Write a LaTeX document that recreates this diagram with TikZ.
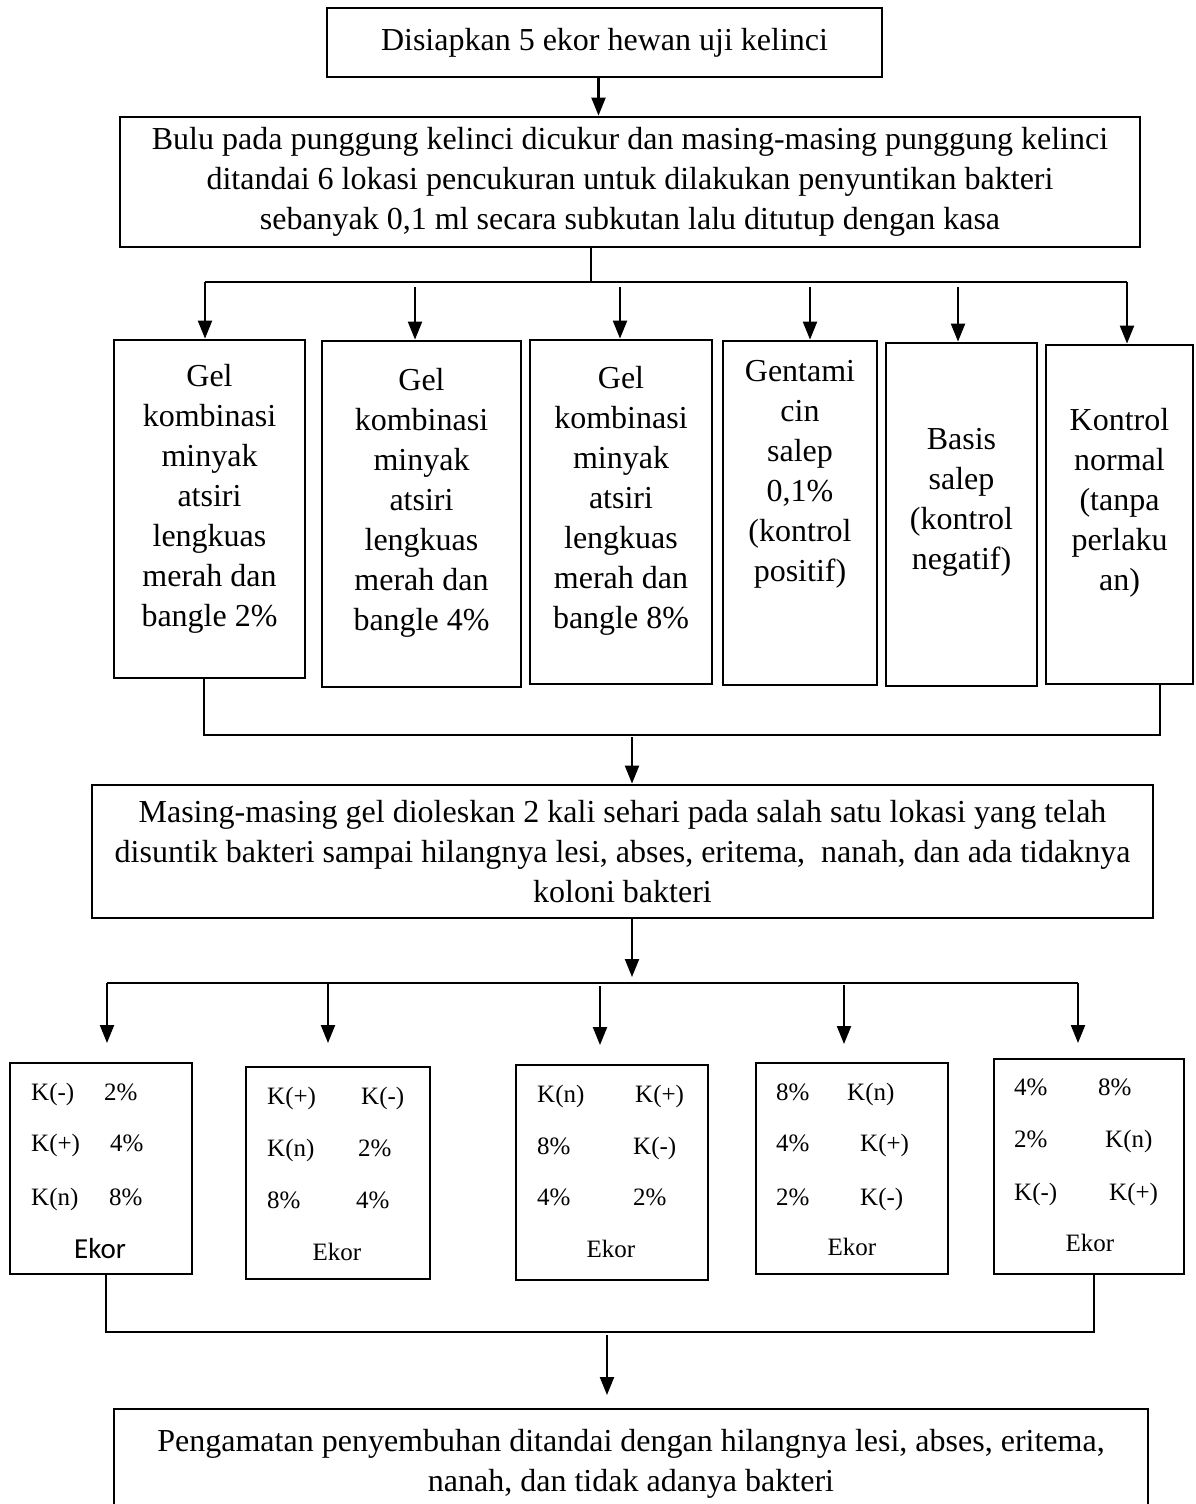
\documentclass[tikz,border=0pt]{standalone}
\usepackage{fontspec}
\setmainfont{Liberation Serif}
\newfontfamily\calib{Carlito}
\usetikzlibrary{arrows.meta}
\begin{document}
\begin{tikzpicture}[x=1pt,y=-1pt,
  box/.style={draw,line width=2.8pt,inner sep=0pt},
  txt/.style={font=\fontsize{32}{40}\selectfont,align=center,inner sep=0pt},
  sm/.style={font=\fontsize{25}{30}\selectfont,inner sep=0pt,anchor=west,text height=17pt,text depth=0pt},
  smc/.style={sm,anchor=center},
  arr/.style={line width=2.2pt,-{Triangle[length=18pt,width=14pt]}},
  bus/.style={line width=1.3pt}]
\useasboundingbox (0,0) rectangle (1195,1504);
% top box
\node[box,txt,minimum width=555,minimum height=69] (A) at (604.5,42.5) {Disiapkan 5 ekor hewan uji kelinci};
\node[box,txt,minimum width=1020,minimum height=130] (B) at (630,182) {Bulu pada punggung kelinci dicukur dan masing-masing punggung kelinci\\ditandai 6 lokasi pencukuran untuk dilakukan penyuntikan bakteri\\sebanyak 0,1 ml secara subkutan lalu ditutup dengan kasa};
\draw[arr] ([xshift=-6pt]A.south) -- ([xshift=-6pt]A.south |- B.north);
% six boxes
\node[box,minimum width=191,minimum height=338] (b1) at (209.5,509) {};
\node[box,minimum width=199,minimum height=346] (b2) at (421.5,514) {};
\node[box,minimum width=182,minimum height=344] (b3) at (621,512) {};
\node[box,minimum width=154,minimum height=344] (b4) at (800,513) {};
\node[box,minimum width=151,minimum height=343] (b5) at (961.5,514.5) {};
\node[box,minimum width=147,minimum height=339] (b6) at (1119.5,514.5) {};
\node[txt] (t1) at (209.5,499) {Gel\\kombinasi\\minyak\\atsiri\\lengkuas\\merah dan\\bangle 2\%};
\node[txt] (t2) at (421.5,502.5) {Gel\\kombinasi\\minyak\\atsiri\\lengkuas\\merah dan\\bangle 4\%};
\node[txt] (t3) at (621,501) {Gel\\kombinasi\\minyak\\atsiri\\lengkuas\\merah dan\\bangle 8\%};
\node[txt] (t4) at (800,474) {Gentami\\cin\\salep\\0,1\%\\(kontrol\\positif)};
\node[txt] (t5) at (961.5,502.5) {Basis\\salep\\(kontrol\\negatif)};
\node[txt] (t6) at (1119.5,502.5) {Kontrol\\normal\\(tanpa\\perlaku\\an)};
% bus 1
\coordinate (j1) at (591,282);
\coordinate (p1) at (205,282);
\coordinate (p2) at (415,287);
\coordinate (p3) at (620,287);
\coordinate (p4) at (810,287);
\coordinate (p5) at (958,287);
\coordinate (p6) at (1127,282);
\draw[bus] (j1 |- B.south) -- (j1);
\draw[bus] (p1) -- (p6);
\draw[arr] (p1) -- (p1 |- b1.north);
\draw[arr] (p2) -- (p2 |- b2.north);
\draw[arr] (p3) -- (p3 |- b3.north);
\draw[arr] (p4) -- (p4 |- b4.north);
\draw[arr] (p5) -- (p5 |- b5.north);
\draw[arr] (p6) -- (p6 |- b6.north);
% middle box
\node[box,txt,minimum width=1061,minimum height=133] (C) at (622.5,851.5) {Masing-masing gel dioleskan 2 kali sehari pada salah satu lokasi yang telah\\disuntik bakteri sampai hilangnya lesi, abses, eritema,~ nanah, dan ada tidaknya\\koloni bakteri};
% bus 2
\coordinate (q1) at (204,735);
\coordinate (q2) at (1160,735);
\coordinate (q3) at (632,737);
\draw[bus] (q1 |- b1.south) -- (q1) -- (q2) -- (q2 |- b6.south);
\draw[arr] (q3) -- (q3 |- C.north);
% bus 3
\coordinate (r0) at (632,977);
\draw[arr] (r0 |- C.south) -- (r0);
\coordinate (r1) at (107,983);
\coordinate (r2) at (328,983);
\coordinate (r3) at (600,986);
\coordinate (r4) at (844,985);
\coordinate (r5) at (1078,983);
\draw[bus] (r1) -- (r5);
\coordinate (s1) at (107,1043);
\coordinate (s2) at (328,1043);
\coordinate (s3) at (600,1045);
\coordinate (s4) at (844,1044);
\coordinate (s5) at (1078,1043);
\draw[arr] (r1) -- (s1);
\draw[arr] (r2) -- (s2);
\draw[arr] (r3) -- (s3);
\draw[arr] (r4) -- (s4);
\draw[arr] (r5) -- (s5);
% small boxes
\node[box,minimum width=182,minimum height=211] (d1) at (101,1168.5) {};
\node[box,minimum width=184,minimum height=212] (d2) at (338,1173) {};
\node[box,minimum width=192,minimum height=215] (d3) at (612,1172.5) {};
\node[box,minimum width=192,minimum height=211] (d4) at (852,1168.5) {};
\node[box,minimum width=190,minimum height=215] (d5) at (1089,1166.5) {};
% d1
\node[sm] (d1a) at (31,1092) {K(-)};
\node[sm] (d1b) at (104,1092) {2\%};
\node[sm] (d1c) at (31,1143) {K(+)};
\node[sm] (d1d) at (110,1143) {4\%};
\node[sm] (d1e) at (31,1197) {K(n)};
\node[sm] (d1f) at (109,1197) {8\%};
\node[smc,font=\calib\fontsize{29}{34}\selectfont] (d1g) at (100,1250) {Ekor};
% d2
\node[sm] (d2a) at (267,1096) {K(+)};
\node[sm] (d2b) at (361,1096) {K(-)};
\node[sm] (d2c) at (267,1148) {K(n)};
\node[sm] (d2d) at (358,1148) {2\%};
\node[sm] (d2e) at (267,1200) {8\%};
\node[sm] (d2f) at (356,1200) {4\%};
\node[smc] (d2g) at (337,1252) {Ekor};
% d3
\node[sm] (d3a) at (537,1094) {K(n)};
\node[sm] (d3b) at (635,1094) {K(+)};
\node[sm] (d3c) at (537,1146) {8\%};
\node[sm] (d3d) at (633,1146) {K(-)};
\node[sm] (d3e) at (537,1197) {4\%};
\node[sm] (d3f) at (633,1197) {2\%};
\node[smc] (d3g) at (611,1249) {Ekor};
% d4
\node[sm] (d4a) at (776,1092) {8\%};
\node[sm] (d4b) at (847,1092) {K(n)};
\node[sm] (d4c) at (776,1143) {4\%};
\node[sm] (d4d) at (860,1143) {K(+)};
\node[sm] (d4e) at (776,1197) {2\%};
\node[sm] (d4f) at (860,1197) {K(-)};
\node[smc] (d4g) at (852,1247) {Ekor};
% d5
\node[sm] (d5a) at (1014,1087) {4\%};
\node[sm] (d5b) at (1098,1087) {8\%};
\node[sm] (d5c) at (1014,1139) {2\%};
\node[sm] (d5d) at (1105,1139) {K(n)};
\node[sm] (d5e) at (1014,1192) {K(-)};
\node[sm] (d5f) at (1109,1192) {K(+)};
\node[smc] (d5g) at (1090,1243) {Ekor};
% bus 4
\coordinate (u1) at (106,1332);
\coordinate (u2) at (1094,1332);
\draw[bus] (u1 |- d1.south) -- (u1) -- (u2) -- (u2 |- d5.south);
% bottom box
\node[box,minimum width=1034,minimum height=120] (E) at (631,1469) {};
\node[txt] (Et) at (631,1463.5) {Pengamatan penyembuhan ditandai dengan hilangnya lesi, abses, eritema,\\nanah, dan tidak adanya bakteri};
\coordinate (u3) at (607,1335);
\coordinate (u4) at (607,1395);
\draw[arr] (u3) -- (u4);
\end{tikzpicture}
\end{document}
